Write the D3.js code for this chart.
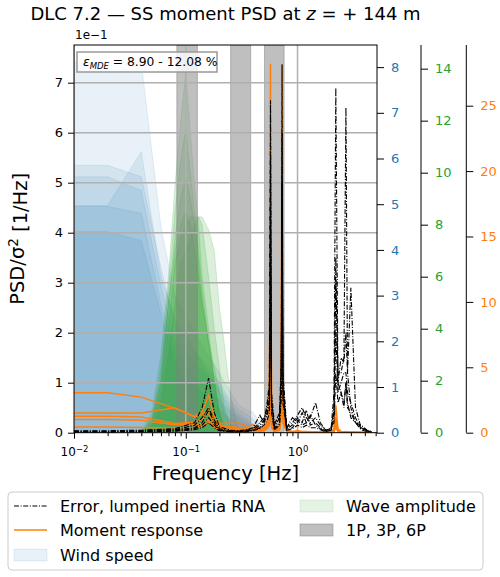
<!DOCTYPE html>
<html>
<head>
<meta charset="utf-8">
<script src="https://cdn.jsdelivr.net/npm/d3@7"></script>
<style>
  body { margin: 0; background: #fff; }
  text { font-family: "DejaVu Sans", sans-serif; }
</style>
</head>
<body>
<div id="vis"></div>
<script>

// frequency grids [Hz]
var fLine = [0.01, 0.02, 0.04, 0.08, 0.12, 0.14, 0.16, 0.18, 0.2, 0.25,
             0.3, 0.35, 0.4, 0.46, 0.5, 0.535, 0.56, 0.573, 0.585, 0.62,
             0.69, 0.715, 0.727, 0.74, 0.8, 0.9, 1.0, 1.1, 1.2, 1.3,
             1.45, 1.6, 1.8, 2.0, 2.12, 2.2, 2.3, 2.45, 2.6, 2.71,
             2.8, 3.0, 3.3, 3.7, 4.2, 4.6];
var fWind = [0.01, 0.02, 0.04, 0.06, 0.08, 0.1, 0.12, 0.15, 0.2, 0.25, 0.3, 0.35, 0.4, 0.5];
var fWave = [0.04, 0.05, 0.06, 0.07, 0.08, 0.09, 0.1, 0.11, 0.12, 0.13, 0.14, 0.16, 0.18, 0.2, 0.22, 0.25, 0.3];

// error, lumped inertia RNA (PSD/sigma^2, left axis)
var errA = [0.004, 0.004, 0.005, 0.008, 0.02, 0.05, 0.109, 0.04, 0.012, 0.005,
            0.004, 0.006, 0.01, 0.035, 0.02, 0.06, 0.1, 0.665, 0.08, 0.02,
            0.03, 0.12, 0.5, 0.1, 0.01, 0.02, 0.035, 0.05, 0.03, 0.02,
            0.03, 0.015, 0.005, 0.01, 0.08, 0.69, 0.1, 0.08, 0.05, 0.1,
            0.06, 0.03, 0.02, 0.01, 0.005, 0.002];
var errB = [0.003, 0.003, 0.004, 0.006, 0.015, 0.03, 0.05, 0.025, 0.008, 0.004,
            0.003, 0.005, 0.008, 0.02, 0.03, 0.04, 0.07, 0.45, 0.06, 0.015,
            0.04, 0.15, 0.737, 0.12, 0.01, 0.03, 0.02, 0.04, 0.02, 0.03,
            0.06, 0.02, 0.004, 0.01, 0.04, 0.3, 0.12, 0.12, 0.15, 0.65,
            0.12, 0.05, 0.02, 0.015, 0.005, 0.002];
var errC = [0.002, 0.002, 0.003, 0.005, 0.01, 0.02, 0.045, 0.02, 0.006, 0.003,
            0.003, 0.004, 0.006, 0.015, 0.025, 0.05, 0.09, 0.55, 0.07, 0.01,
            0.03, 0.1, 0.6, 0.09, 0.008, 0.015, 0.03, 0.02, 0.045, 0.015,
            0.02, 0.01, 0.003, 0.008, 0.05, 0.35, 0.1, 0.15, 0.14, 0.2,
            0.12, 0.29, 0.05, 0.01, 0.004, 0.002];
var errD = [0.002, 0.002, 0.002, 0.004, 0.008, 0.015, 0.03, 0.015, 0.005, 0.002,
            0.002, 0.003, 0.005, 0.01, 0.02, 0.035, 0.06, 0.4, 0.05, 0.008,
            0.02, 0.08, 0.45, 0.07, 0.006, 0.01, 0.025, 0.015, 0.02, 0.035,
            0.015, 0.008, 0.002, 0.006, 0.03, 0.2, 0.08, 0.1, 0.12, 0.12,
            0.08, 0.06, 0.03, 0.008, 0.003, 0.001];
var errE = [0.001, 0.001, 0.002, 0.003, 0.006, 0.01, 0.02, 0.01, 0.004, 0.002,
            0.002, 0.002, 0.004, 0.008, 0.015, 0.025, 0.04, 0.3, 0.04, 0.006,
            0.015, 0.07, 0.5, 0.06, 0.005, 0.008, 0.015, 0.01, 0.015, 0.01,
            0.01, 0.006, 0.002, 0.005, 0.02, 0.12, 0.06, 0.08, 0.06, 0.1,
            0.05, 0.04, 0.02, 0.006, 0.002, 0.001];

// moment response (orange axis)
var momA = [3.06, 3.06, 2.72, 1.86, 1.25, 1.6, 2.85, 1.2, 0.75, 0.73,
            0.73, 0.5, 0.6, 0.3, 0.4, 0.8, 1.5, 28.2, 1.2, 0.3,
            0.4, 2.5, 20.0, 1.5, 0.2, 0.1, 0.15, 0.1, 0.1, 0.08,
            0.08, 0.06, 0.05, 0.06, 0.3, 2.1, 0.3, 0.1, 0.08, 0.1,
            0.06, 0.05, 0.04, 0.03, 0.02, 0.01];
var momB = [1.5, 1.5, 1.5, 1.91, 1.2, 1.4, 1.86, 0.9, 0.6, 0.45,
            0.4, 0.35, 0.3, 0.25, 0.3, 0.6, 1.2, 18.0, 1.0, 0.2,
            0.5, 3.0, 28.1, 2.0, 0.15, 0.08, 0.1, 0.08, 0.06, 0.05,
            0.05, 0.04, 0.03, 0.05, 0.2, 1.2, 0.2, 0.08, 0.06, 0.08,
            0.05, 0.04, 0.03, 0.02, 0.01, 0.01];
var momC = [1.25, 1.25, 1.2, 0.7, 0.8, 1.0, 1.5, 0.7, 0.5, 0.35,
            0.3, 0.25, 0.25, 0.2, 0.25, 0.5, 1.0, 22.0, 0.8, 0.15,
            0.3, 2.0, 15.0, 1.2, 0.1, 0.06, 0.08, 0.06, 0.05, 0.04,
            0.04, 0.03, 0.02, 0.04, 0.15, 0.8, 0.15, 0.06, 0.05, 0.06,
            0.04, 0.03, 0.02, 0.01, 0.01, 0.01];
var momD = [1.0, 1.0, 0.95, 0.6, 0.6, 0.7, 1.0, 0.5, 0.35, 0.25,
            0.2, 0.2, 0.2, 0.15, 0.2, 0.4, 0.8, 12.0, 0.6, 0.1,
            0.3, 2.5, 24.0, 1.5, 0.08, 0.05, 0.06, 0.05, 0.04, 0.03,
            0.03, 0.02, 0.02, 0.03, 0.1, 0.6, 0.1, 0.05, 0.04, 0.05,
            0.03, 0.02, 0.02, 0.01, 0.01, 0.01];
var momE = [0.43, 0.43, 0.4, 0.35, 0.4, 0.5, 0.8, 0.4, 0.25, 0.2,
            0.15, 0.15, 0.15, 0.12, 0.15, 0.3, 0.6, 8.0, 0.4, 0.08,
            0.2, 1.2, 10.0, 0.8, 0.06, 0.04, 0.05, 0.04, 0.03, 0.02,
            0.02, 0.02, 0.01, 0.02, 0.08, 0.4, 0.08, 0.04, 0.03, 0.04,
            0.02, 0.02, 0.01, 0.01, 0.01, 0.005];

// wind speed PSD (blue axis)
var windA = [8.1, 8.1, 8.1, 4.5, 3.0, 2.6, 2.2, 1.8, 1.3, 0.9, 0.6, 0.5, 0.45, 0.1];
var windB = [5.85, 5.85, 5.6, 3.6, 2.4, 2.1, 1.8, 1.5, 1.1, 0.7, 0.5, 0.4, 0.3, 0.05];
var windC = [5.6, 5.6, 5.3, 3.2, 2.0, 1.8, 1.5, 1.3, 1.0, 0.6, 0.4, 0.3, 0.2, 0.05];
var windD = [4.97, 4.97, 6.15, 3.4, 2.5, 2.2, 1.8, 1.4, 0.9, 0.5, 0.35, 0.25, 0.15, 0.03];
var windE = [4.95, 4.95, 4.8, 2.8, 1.8, 1.5, 1.2, 1.0, 0.7, 0.45, 0.3, 0.2, 0.1, 0.02];
var windF = [4.4, 4.4, 4.2, 2.6, 1.5, 1.2, 1.0, 0.8, 0.5, 0.3, 0.2, 0.1, 0.05, 0.01];

// wave amplitude PSD (green axis)
var waveA = [0, 0.8, 3.0, 6.0, 9.5, 12.0, 13.86, 11.5, 9.5, 8.0, 6.0, 4.0, 2.0, 0.8, 0.2, 0, 0];
var waveB = [0, 0.6, 2.5, 5.5, 8.5, 10.5, 11.7, 10.0, 8.5, 7.0, 5.5, 3.5, 1.8, 0.7, 0.2, 0, 0];
var waveC = [0, 0.5, 2.0, 5.0, 7.5, 9.0, 9.8, 9.0, 8.0, 6.5, 5.0, 3.5, 2.0, 0.8, 0.3, 0.1, 0];
var waveD = [0, 0.3, 1.5, 4.0, 6.5, 7.5, 8.0, 8.3, 8.3, 8.3, 8.0, 6.0, 4.0, 2.5, 1.0, 0.3, 0];
var waveE = [0, 0.2, 1.0, 3.0, 5.0, 6.5, 7.0, 7.5, 8.0, 8.3, 8.3, 7.8, 7.0, 4.8, 3.5, 1.5, 0];
var waveF = [0, 0.4, 2.0, 5.0, 7.0, 8.0, 8.5, 8.0, 7.0, 6.0, 5.0, 3.5, 2.5, 1.5, 0.8, 0.3, 0];

// 1P, 3P, 6P ranges [Hz]
var bandLo = [0.0832, 0.252, 0.506];
var bandHi = [0.127, 0.381, 0.758];

// tick values
var leftTicks = [0, 0.1, 0.2, 0.3, 0.4, 0.5, 0.6, 0.7];
var windTicks = [0, 1, 2, 3, 4, 5, 6, 7, 8];
var waveTicks = [0, 2, 4, 6, 8, 10, 12, 14];
var momTicks = [0, 5, 10, 15, 20, 25];
var xMajor = [0.01, 0.1, 1];
var xExp = ["\u22122", "\u22121", "0"];

var C_BLUE = "#1f77b4", C_GREEN = "#2ca02c", C_ORANGE = "#ff7f0e";

// set the dimensions of the plot area
var L = 74, R = 377, T = 45, B = 432.7;

var svg = d3.select("#vis").append("svg")
    .attr("width", 500)
    .attr("height", 577);

// scales
var x = d3.scaleLog().domain([0.01, 5.14]).range([L, R]);
var yL = d3.scaleLinear().domain([0, 0.7754]).range([B, T]);
var yW = d3.scaleLinear().domain([0, 8.484]).range([B, T]);
var yG = d3.scaleLinear().domain([0, 14.91]).range([B, T]);
var yO = d3.scaleLinear().domain([0, 29.64]).range([B, T]);

var plot = svg.append("g");

plot.append("clipPath").attr("id", "clip")
  .append("rect").attr("x", L).attr("y", T).attr("width", R - L).attr("height", B - T);

var inner = plot.append("g").attr("clip-path", "url(#clip)");

// wind fills
var windArea = d3.area()
    .x(function(d, i) { return x(fWind[i]); })
    .y0(B)
    .y1(function(d) { return yW(d); });

[windA, windB, windC, windD, windE, windF].forEach(function(s) {
  inner.append("path")
      .datum(s)
      .attr("fill", C_BLUE).attr("fill-opacity", 0.1)
      .attr("stroke", C_BLUE).attr("stroke-opacity", 0.1)
      .attr("d", windArea);
});

// wave fills
var waveArea = d3.area()
    .x(function(d, i) { return x(fWave[i]); })
    .y0(B)
    .y1(function(d) { return yG(d); });

[waveA, waveB, waveC, waveD, waveE, waveF].forEach(function(s) {
  inner.append("path")
      .datum(s)
      .attr("fill", C_GREEN).attr("fill-opacity", 0.17)
      .attr("stroke", C_GREEN).attr("stroke-opacity", 0.17)
      .attr("d", waveArea);
});

// 1P 3P 6P bands
bandLo.forEach(function(lo, i) {
  inner.append("rect")
      .attr("x", x(lo)).attr("y", T)
      .attr("width", x(bandHi[i]) - x(lo)).attr("height", B - T)
      .attr("fill", "gray").attr("fill-opacity", 0.5)
      .attr("stroke", "gray").attr("stroke-opacity", 0.5);
});

// grid
inner.selectAll(".hgrid").data(leftTicks).enter().append("line")
    .attr("x1", L).attr("x2", R)
    .attr("y1", function(d) { return yL(d); })
    .attr("y2", function(d) { return yL(d); })
    .attr("stroke", "#b0b0b0").attr("stroke-width", 1.5);
inner.selectAll(".vgrid").data(xMajor).enter().append("line")
    .attr("y1", T).attr("y2", B)
    .attr("x1", function(d) { return x(d); })
    .attr("x2", function(d) { return x(d); })
    .attr("stroke", "#b0b0b0").attr("stroke-width", 1.5);

// moment response lines
var momLine = d3.line()
    .x(function(d, i) { return x(fLine[i]); })
    .y(function(d) { return yO(d); });

[momA, momB, momC, momD, momE].forEach(function(s) {
  inner.append("path")
      .datum(s)
      .attr("fill", "none")
      .attr("stroke", C_ORANGE).attr("stroke-width", 1.5)
      .attr("d", momLine);
});

// error lines
var errLine = d3.line()
    .x(function(d, i) { return x(fLine[i]); })
    .y(function(d) { return yL(d); });

[errA, errB, errC, errD, errE].forEach(function(s) {
  inner.append("path")
      .datum(s)
      .attr("fill", "none")
      .attr("stroke", "#000").attr("stroke-width", 1.1)
      .attr("stroke-dasharray", "5,1.6,1,1.6")
      .attr("d", errLine);
});

// frame
plot.append("rect")
    .attr("x", L).attr("y", T).attr("width", R - L).attr("height", B - T)
    .attr("fill", "none").attr("stroke", "#000").attr("stroke-width", 1);

function styleAxis(g, color) {
  g.select(".domain").remove();
  g.selectAll(".tick line").attr("stroke", "#000").attr("stroke-width", 1);
  g.selectAll(".tick text")
      .attr("fill", color)
      .style("font-family", "DejaVu Sans")
      .style("font-size", "13px");
}

// left axis
svg.append("g")
    .attr("transform", "translate(" + L + ",0)")
    .call(d3.axisLeft(yL).tickValues(leftTicks).tickSize(6).tickPadding(5)
      .tickFormat(function(d) { return Math.round(d * 10); }))
    .call(styleAxis, "#000");

svg.append("text")
    .attr("x", L + 1).attr("y", 39)
    .style("font-size", "12px")
    .text("1e\u22121");

// bottom axis
var minorX = [];
[0.01, 0.1, 1].forEach(function(dec) {
  for (var k = 2; k <= 9; k++) { if (dec * k <= 5.14) minorX.push(dec * k); }
});
svg.append("g")
    .attr("transform", "translate(0," + B + ")")
    .call(d3.axisBottom(x).tickValues(minorX).tickSize(3.5).tickFormat(""))
    .call(styleAxis, "#000");

var xAx = svg.append("g")
    .attr("transform", "translate(0," + B + ")")
    .call(d3.axisBottom(x).tickValues(xMajor).tickSize(6).tickPadding(9).tickFormat(""))
    .call(styleAxis, "#000");
xAx.selectAll(".tick text").each(function(d, i) {
  var t = d3.select(this).attr("fill", "#000").style("font-size", "12px").attr("dy", "0.71em");
  t.append("tspan").text("10");
  t.append("tspan").attr("dy", "-0.45em").style("font-size", "8.5px").text(xExp[i]);
});

// right axes
svg.append("g")
    .attr("transform", "translate(" + R + ",0)")
    .call(d3.axisRight(yW).tickValues(windTicks).tickSize(7).tickPadding(7))
    .call(styleAxis, C_BLUE);

[[421, yG, waveTicks, C_GREEN], [466.3, yO, momTicks, C_ORANGE]].forEach(function(a) {
  var g = svg.append("g")
      .attr("transform", "translate(" + a[0] + ",0)")
      .call(d3.axisRight(a[1]).tickValues(a[2]).tickSize(7).tickPadding(7))
      .call(styleAxis, a[3]);
  g.append("line")
      .attr("x1", 0).attr("x2", 0).attr("y1", T).attr("y2", B)
      .attr("stroke", "#000").attr("stroke-width", 1);
});

// annotation box
svg.append("rect")
    .attr("x", 77).attr("y", 52).attr("width", 140).attr("height", 20)
    .attr("fill", "#fff").attr("fill-opacity", 0.8)
    .attr("stroke", "#999").attr("stroke-width", 1.5);
var ann = svg.append("text")
    .attr("x", 83).attr("y", 66)
    .style("font-size", "12.3px");
ann.append("tspan").style("font-style", "italic").text("\u03b5");
ann.append("tspan").attr("dy", 3).style("font-style", "italic").style("font-size", "8.5px").text("MDE");
ann.append("tspan").attr("dy", -3).text(" = 8.90 - 12.08 %");

// title
var title = svg.append("text")
    .attr("x", (L + R) / 2).attr("y", 20)
    .attr("text-anchor", "middle")
    .style("font-size", "18px");
title.append("tspan").text("DLC 7.2 \u2014 SS moment PSD at ");
title.append("tspan").style("font-style", "italic").text("z");
title.append("tspan").text(" = + 144 m");

// axis labels
svg.append("text")
    .attr("x", (L + R) / 2).attr("y", 480)
    .attr("text-anchor", "middle")
    .style("font-size", "19.5px")
    .text("Frequency [Hz]");

var yl = svg.append("text")
    .attr("transform", "translate(24," + ((T + B) / 2) + ") rotate(-90)")
    .attr("text-anchor", "middle")
    .style("font-size", "19.5px");
yl.append("tspan").text("PSD/\u03c3");
yl.append("tspan").attr("dy", "-0.45em").style("font-size", "13.5px").text("2");
yl.append("tspan").attr("dy", "0.45em").text(" [1/Hz]");

// legend
var leg = svg.append("g");
leg.append("rect")
    .attr("x", 8).attr("y", 492).attr("width", 475).attr("height", 78).attr("rx", 4)
    .attr("fill", "#fff").attr("fill-opacity", 0.8)
    .attr("stroke", "#cccccc").attr("stroke-width", 1);

var legItems = [
  {label: "Error, lumped inertia RNA", type: "dash", col: 0, row: 0},
  {label: "Moment response", type: "line", col: 0, row: 1},
  {label: "Wind speed", type: "wind", col: 0, row: 2},
  {label: "Wave amplitude", type: "wave", col: 1, row: 0},
  {label: "1P, 3P, 6P", type: "band", col: 1, row: 1}
];
var colX = [14, 300], rowY = [506, 530, 555];

legItems.forEach(function(d) {
  var hx = colX[d.col], hy = rowY[d.row];
  if (d.type === "dash" || d.type === "line") {
    leg.append("line")
        .attr("x1", hx).attr("x2", hx + 33).attr("y1", hy).attr("y2", hy)
        .attr("stroke", d.type === "dash" ? "#000" : C_ORANGE)
        .attr("stroke-width", d.type === "dash" ? 1.1 : 1.5)
        .attr("stroke-dasharray", d.type === "dash" ? "5,1.6,1,1.6" : null);
  } else {
    var c = d.type === "wind" ? C_BLUE : d.type === "wave" ? C_GREEN : "gray";
    var op = d.type === "wind" ? 0.1 : d.type === "wave" ? 0.12 : 0.5;
    leg.append("rect")
        .attr("x", hx).attr("y", hy - 6).attr("width", 33).attr("height", 12)
        .attr("fill", c).attr("fill-opacity", op)
        .attr("stroke", c).attr("stroke-opacity", op);
  }
  leg.append("text")
      .attr("x", hx + 46).attr("y", hy + 5.5)
      .style("font-size", "16px")
      .text(d.label);
});

</script>
</body>
</html>
